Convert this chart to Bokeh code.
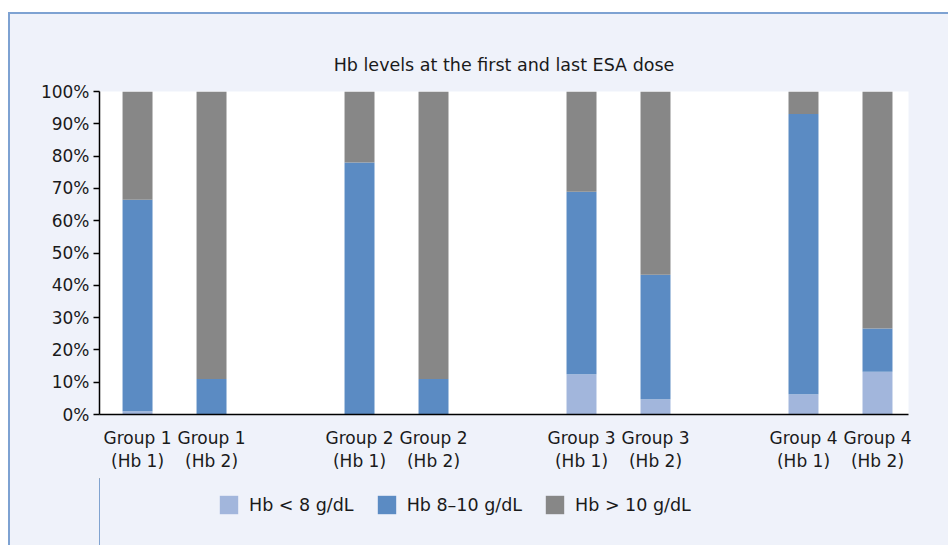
from bokeh.plotting import figure
from bokeh.models import (ColumnDataSource, Range1d, FixedTicker, Legend, LegendItem, LinearAxis)
from bokeh.layouts import column
from bokeh.embed import file_html
from bokeh.resources import INLINE

# ---- data ----
group_labels = ["Group 1", "Group 1", "Group 2", "Group 2",
                "Group 3", "Group 3", "Group 4", "Group 4"]
hb_labels = ["(Hb 1)", "(Hb 2)", "(Hb 1)", "(Hb 2)", "(Hb 1)", "(Hb 2)", "(Hb 1)", "(Hb 2)"]
bar_slots = [0, 1, 3, 4, 6, 7, 9, 10]
hb_low = [1.0, 0.0, 0.0, 0.0, 12.5, 4.7, 6.3, 13.2]
hb_mid = [65.5, 11.0, 78.0, 11.0, 56.5, 38.6, 86.7, 13.4]
hb_high = [round(100 - a - b, 1) for a, b in zip(hb_low, hb_mid)]
series_names = ["Hb < 8 g/dL", "Hb 8\u201310 g/dL", "Hb > 10 g/dL"]
series_colors = ["#a2b6dc", "#5b8bc3", "#878787"]
y_ticks = list(range(0, 101, 10))

FONT = "DejaVu Sans"
TXT = "#1a1a1a"
BG = "#eff2fa"
EDGE = "2px solid #7ea2d2"

source = ColumnDataSource(dict(x=bar_slots, low=hb_low, mid=hb_mid, high=hb_high))

p = figure(frame_width=809, frame_height=323,
           x_range=Range1d(-0.514, 10.419), y_range=Range1d(0, 100),
           output_backend="svg", toolbar_location=None,
           min_border_left=89, min_border_top=77, min_border_right=40, min_border_bottom=64,
           title="Hb levels at the first and last ESA dose")

p.background_fill_color = "white"
p.border_fill_color = BG
p.outline_line_color = None
p.grid.visible = False

p.title.align = "center"
p.title.text_font = FONT
p.title.text_font_size = "17.5px"
p.title.text_font_style = "normal"
p.title.text_color = TXT
p.title.standoff = 33

renderers = p.vbar_stack(["low", "mid", "high"], x="x", width=0.405, source=source,
                         color=series_colors, line_color=None)

# y axis
ya = p.yaxis[0]
ya.ticker = FixedTicker(ticks=y_ticks)
ya.major_label_overrides = {t: f"{t}%" for t in y_ticks}
ya.minor_tick_line_color = None
ya.major_tick_out = 6
ya.major_tick_in = 0
ya.major_label_standoff = 4
ya.axis_line_color = "black"
ya.axis_line_width = 1.5
ya.major_tick_line_color = "black"
ya.major_tick_line_width = 1.5
ya.major_label_text_font = FONT
ya.major_label_text_font_size = "17px"
ya.major_label_text_color = TXT


def style_x(ax, labels, standoff, line):
    ax.ticker = FixedTicker(ticks=bar_slots)
    ax.major_label_overrides = {s: l for s, l in zip(bar_slots, labels)}
    ax.major_tick_line_color = None
    ax.minor_tick_line_color = None
    ax.major_tick_out = 0
    ax.major_tick_in = 0
    ax.minor_tick_out = 0
    ax.minor_tick_in = 0
    ax.axis_line_color = "black" if line else None
    ax.axis_line_width = 1.5
    ax.major_label_standoff = standoff
    ax.major_label_text_font = FONT
    ax.major_label_text_font_size = "17px"
    ax.major_label_text_color = TXT
    ax.major_label_text_align = "center"


style_x(p.xaxis[0], group_labels, 13, True)
ax2 = LinearAxis()
style_x(ax2, hb_labels, 0, False)
p.add_layout(ax2, "below")

# legend strip underneath, same panel colour; its swatch renderers use the
# real data but sit outside this strip's visible x range
p2 = figure(width=938, height=67, x_range=Range1d(1000, 1001), y_range=Range1d(0, 1),
            output_backend="svg", toolbar_location=None,
            x_axis_location=None, y_axis_location=None,
            min_border_left=0, min_border_right=0, min_border_top=0, min_border_bottom=0)
p2.background_fill_color = None
p2.border_fill_color = BG
p2.outline_line_color = None
p2.grid.visible = False

swatches = p2.vbar_stack(["low", "mid", "high"], x="x", width=0.405, source=source,
                         color=series_colors, line_color=None)
legend = Legend(items=[LegendItem(label=n, renderers=[r]) for n, r in zip(series_names, swatches)],
                orientation="horizontal", location=(118, 29),
                glyph_width=23, glyph_height=23, label_standoff=9, spacing=21,
                padding=0, margin=0, border_line_color=None, background_fill_alpha=0,
                label_text_font=FONT, label_text_font_size="17.5px", label_text_color=TXT)
p2.add_layout(legend, "center")

layout = column(p, p2, spacing=0)
layout.margin = (12, 0, 0, 8)
layout.styles = {"border-top": EDGE, "border-left": EDGE, "background-color": BG}
open("out.html", "w").write(file_html(layout, INLINE))
